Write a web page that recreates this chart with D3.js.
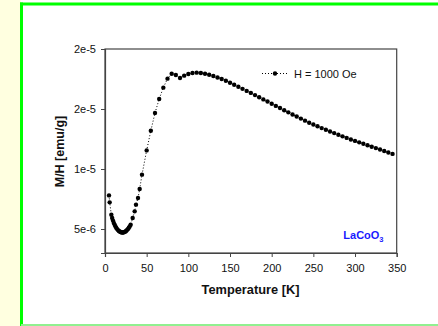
<!DOCTYPE html>
<html><head><meta charset="utf-8">
<script src="https://cdn.jsdelivr.net/npm/d3@7"></script>
<style>
body{margin:0;background:#fff;}
svg{display:block;}
text{font-family:Arial,"Liberation Sans",sans-serif;}
</style>
</head><body>
<svg id="c" width="438" height="326"></svg>
<script>
// ---- data ----
const temperature = [4.8,5.6,7.6,8.6,9.6,10.6,11.6,12.6,13.6,14.6,15.6,16.6,17.6,18.6,19.6,20.6,21.6,22.6,23.6,24.6,25.6,26.6,27.6,28.6,29.6,30.8,33.2,35.6,37.2,39.6,41.6,44.4,
  50,55,60,65,70,75,80,85,90,95,100,105,110,115,120,125,130,135,140,145,150,155,160,165,170,175,180,185,190,195,200,205,210,215,220,225,230,235,240,245,250,255,260,265,270,275,280,285,290,295,300,305,310,315,320,325,330,335,340,345];
// M/H in units of 1e-6 emu/g
const mhMicro = [7.80,7.22,6.19,5.92,5.70,5.51,5.35,5.21,5.09,4.99,4.91,4.84,4.79,4.75,4.72,4.71,4.71,4.73,4.76,4.80,4.86,4.93,5.01,5.10,5.21,5.36,5.92,6.47,7.03,7.58,8.33,9.53,
  11.55,13.19,14.67,15.83,16.78,17.53,17.94,17.83,17.58,17.78,17.92,18.00,18.03,18.00,17.94,17.86,17.75,17.63,17.50,17.36,17.19,17.02,16.85,16.68,16.51,16.34,16.16,15.98,15.80,15.62,15.44,15.26,15.08,14.90,14.72,14.54,14.37,14.20,14.03,13.86,13.71,13.56,13.41,13.27,13.13,12.99,12.85,12.72,12.59,12.46,12.34,12.22,12.10,11.98,11.86,11.74,11.62,11.50,11.38,11.26];
const xTicks = [0,50,100,150,200,250,300,350];
const yTickValues = [5e-6,1e-5,1.5e-5,2e-5];
const yTickLabels = ["5e-6","1e-5","2e-5","2e-5"];
const seriesName = "H = 1000 Oe";
const sampleName = "LaCoO";
const sampleSub = "3";

const mh = mhMicro.map(v => v * 1e-6);
const data = temperature.map((t,i) => ({t, v: mh[i]}));

// ---- layout ----
const svg = d3.select("#c");
const L = 105, R = 396.7, T = 49, B = 253;
const axisColor = "#444";

svg.append("rect").attr("x",0).attr("y",0).attr("width",21).attr("height",326).attr("fill","#FFFFE0");
// green border: bright left/top, lighter partially-cut bottom
svg.append("line").attr("x1",21.5).attr("x2",21.5).attr("y1",2.5).attr("y2",326)
  .attr("stroke","#00FF00").attr("stroke-width",3);
svg.append("line").attr("x1",20).attr("x2",438).attr("y1",4).attr("y2",4)
  .attr("stroke","#00FF00").attr("stroke-width",3);
svg.append("line").attr("x1",21).attr("x2",438).attr("y1",325).attr("y2",325)
  .attr("stroke","#90F090").attr("stroke-width",2);

const x = d3.scaleLinear().domain([0,350]).range([L,R]);
const y = d3.scaleLinear().domain([3e-6,2e-5]).range([B,T]);

// frame
svg.append("rect").attr("x",L).attr("y",T).attr("width",R-L).attr("height",B-T)
  .attr("fill","none").attr("stroke",axisColor).attr("stroke-width",1.2);

const xAxis = svg.append("g").attr("transform",`translate(0,${B})`)
  .call(d3.axisBottom(x).tickValues(xTicks).tickSize(4).tickPadding(7).tickFormat(d3.format("d")));
const yAxis = svg.append("g").attr("transform",`translate(${L},0)`)
  .call(d3.axisLeft(y).tickValues(yTickValues).tickSize(4).tickPadding(5).tickFormat((d,i)=>yTickLabels[i]));
[xAxis,yAxis].forEach(g=>{
  g.select(".domain").attr("stroke",axisColor).attr("stroke-width",1.2);
  g.selectAll(".tick line").attr("stroke",axisColor);
  g.selectAll("text").attr("font-size",11).attr("fill","#111").attr("font-family",'Arial,"Liberation Sans",sans-serif');
});

// series
const line = d3.line().x(d=>x(d.t)).y(d=>y(d.v));
svg.append("path").datum(data).attr("d",line).attr("fill","none")
  .attr("stroke","#000").attr("stroke-width",1).attr("stroke-dasharray","1,2");
svg.append("g").selectAll("circle").data(data).join("circle")
  .attr("cx",d=>x(d.t)).attr("cy",d=>y(d.v)).attr("r",2.2).attr("fill","#000");

// axis titles
svg.append("text").attr("x",250.5).attr("y",294).attr("text-anchor","middle")
  .attr("font-size",12.8).attr("font-weight","bold").attr("fill","#111").text("Temperature [K]");
svg.append("text").attr("transform","translate(63.5,151.5) rotate(-90)").attr("text-anchor","middle")
  .attr("font-size",12.5).attr("font-weight","bold").attr("fill","#111").text("M/H [emu/g]");

// legend
const lg = svg.append("g");
lg.append("line").attr("x1",262).attr("x2",288).attr("y1",73.5).attr("y2",73.5)
  .attr("stroke","#000").attr("stroke-width",1).attr("stroke-dasharray","1,2");
lg.append("circle").attr("cx",275).attr("cy",73.5).attr("r",2.2).attr("fill","#000");
lg.append("text").attr("x",294).attr("y",77.5).attr("font-size",11).attr("fill","#111").text(seriesName);

// sample label
const sl = svg.append("text").attr("x",343.3).attr("y",239).attr("font-size",11)
  .attr("font-weight","bold").attr("fill","#1a1aff");
sl.append("tspan").text(sampleName);
sl.append("tspan").attr("font-size",7.5).attr("dy",3).text(sampleSub);
</script>
</body></html>
